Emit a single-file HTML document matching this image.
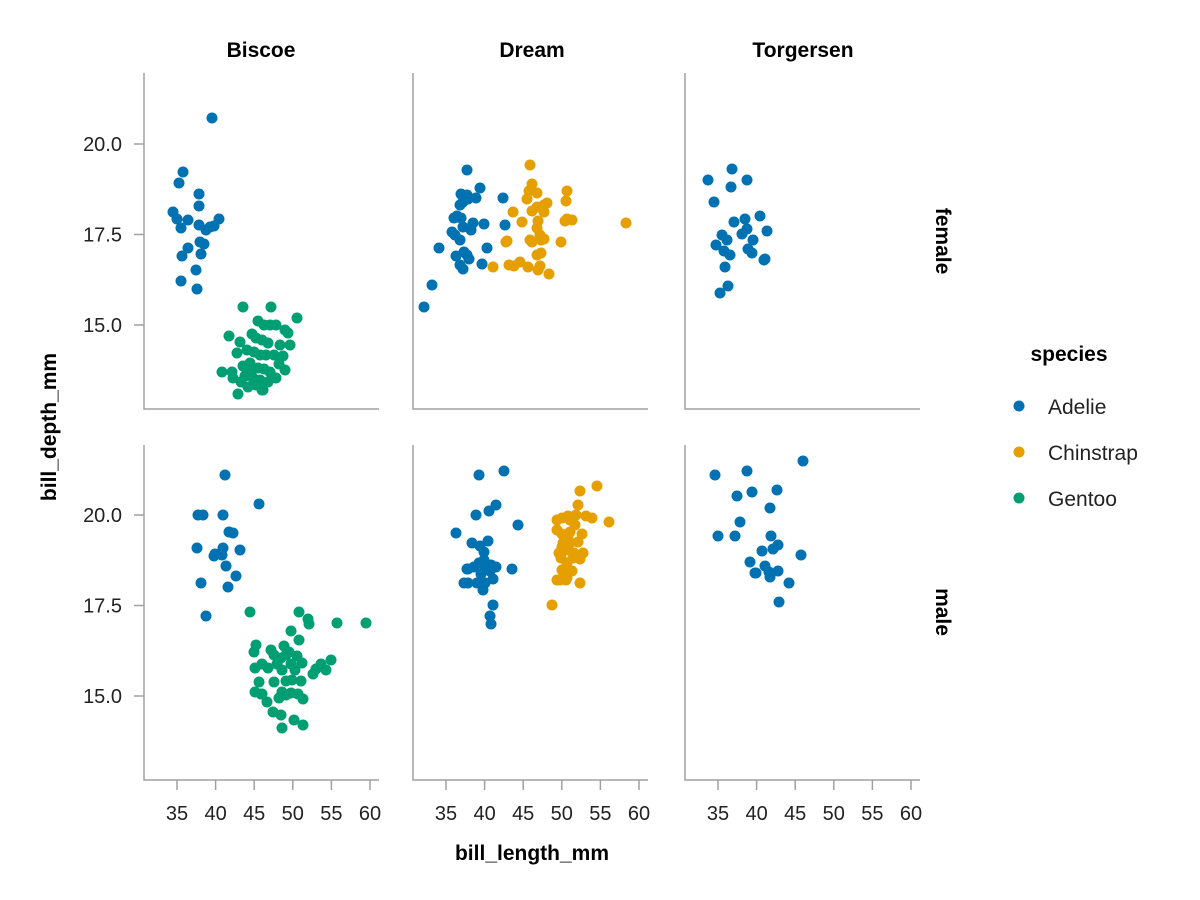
<!DOCTYPE html>
<html><head><meta charset="utf-8"><style>body{margin:0;background:#fff}svg{display:block}text{font-family:"Liberation Sans",sans-serif}</style></head><body>
<svg id="s" width="1200" height="900" xmlns="http://www.w3.org/2000/svg">
<g fill="#000">
<text x="261" y="57" font-size="21" font-weight="bold" text-anchor="middle">Biscoe</text>
<text x="532" y="57" font-size="21" font-weight="bold" text-anchor="middle">Dream</text>
<text x="803" y="57" font-size="21" font-weight="bold" text-anchor="middle">Torgersen</text>
<text transform="translate(936,241) rotate(90)" font-size="21" font-weight="bold" text-anchor="middle">female</text>
<text transform="translate(936,612) rotate(90)" font-size="21" font-weight="bold" text-anchor="middle">male</text>
<text transform="translate(56,427) rotate(-90)" font-size="21" font-weight="bold" text-anchor="middle">bill_depth_mm</text>
<text x="532" y="860" font-size="21" font-weight="bold" text-anchor="middle">bill_length_mm</text>
<text x="1069" y="361" font-size="21" font-weight="bold" text-anchor="middle">species</text>
<text x="1048" y="414" font-size="21" fill="#222">Adelie</text>
<text x="1048" y="460" font-size="21" fill="#222">Chinstrap</text>
<text x="1048" y="506" font-size="21" fill="#222">Gentoo</text>
</g>
<circle cx="1019" cy="406" r="5.5" fill="#0072B2"/><circle cx="1019" cy="452" r="5.5" fill="#E69F00"/><circle cx="1019" cy="498" r="5.5" fill="#009E73"/>
<g id="ax" stroke="#a0a0a0" stroke-width="1.5" fill="none"></g>
<g id="lab" font-size="20" fill="#222"></g>
<g id="pts"></g>
</svg>
<script>
var ax=document.getElementById('ax'),lab=document.getElementById('lab'),pts=document.getElementById('pts');
var NS="http://www.w3.org/2000/svg";
function el(p,t,a,txt){var e=document.createElementNS(NS,t);for(var k in a)e.setAttribute(k,a[k]);if(txt)e.textContent=txt;p.appendChild(e);}
var cols=[144,413,685],rows=[[73,409],[445,780]];
cols.forEach(function(x0,ci){rows.forEach(function(r,ri){
 el(ax,'path',{d:'M'+x0+' '+r[0]+'V'+r[1]+'H'+(x0+235)});
 if(ri==1){for(var i=0;i<6;i++){var x=x0+33+i*38.6;el(ax,'path',{d:'M'+x+' 780V790'});el(lab,'text',{x:x,y:820,'text-anchor':'middle'},String(35+5*i));}}
 if(ci==0){var ys=ri==0?[144,234.5,325]:[515,605.5,696];var L=['20.0','17.5','15.0'];ys.forEach(function(y,j){el(ax,'path',{d:'M134 '+y+'H144'});el(lab,'text',{x:122,y:y+7,'text-anchor':'end'},L[j]);});}
});});
var A='#0072B2',C='#E69F00',G='#009E73';
var data=[[A,[212,118,183,172,179,183,173,212,177,219,199,194,199,206,188,220,199,225,206,230,210,227,214,226,219,219,181,228,188,248,182,256,201,254,196,270,200,242,204,244,181,281,197,289]],
[G,[243,307,271,307,297,318,229,336,258,321,264,325,270,325,276,325,285,330,288,333,252,334,256,338,262,340,268,343,280,345,290,345,240,342,237,353,247,350,254,352,260,355,266,355,274,355,283,356,243,366,250,363,258,368,264,369,270,372,279,364,222,372,232,372,245,376,253,378,260,380,268,382,233,378,241,382,248,387,256,385,263,390,238,394,262,390,276,378,285,370,251,372]],
[A,[424,307,432,285,439,248,452,232,457,216,455,235,460,240,461,218,463,227,467,195,461,194,464,252,467,255,463,269,469,259,460,265,467,170,468,199,476,198,471,230,487,248,484,224,482,264,480,188,503,198,505,225,454,218,463,202,473,223,460,205,456,256]],
[C,[530,165,532,184,529,191,537,193,527,199,522,222,537,207,547,203,544,205,532,211,513,212,538,221,537,228,540,235,541,240,544,239,530,240,507,241,506,242,532,242,567,191,567,219,565,221,572,220,561,242,520,262,509,265,514,266,493,267,528,267,540,266,538,270,549,274,541,253,537,255,626,223,566,201,544,212]],
[A,[708,180,732,169,747,180,714,202,731,187,734,222,745,219,747,229,742,234,753,240,760,216,767,231,765,259,752,253,748,249,716,245,727,240,724,251,722,235,730,255,720,293,728,286,725,267,764,260]],
[A,[225,475,259,504,198,515,203,515,223,515,223,548,197,548,233,533,229,532,215,554,222,555,214,556,226,566,240,550,201,583,228,587,236,576,206,616]],
[G,[250,612,299,612,366,623,337,623,308,619,309,624,291,631,256,645,284,646,299,640,271,650,289,652,254,652,274,655,281,658,297,656,262,664,277,664,291,664,302,663,321,664,331,660,255,668,268,668,282,670,295,670,316,669,326,670,313,674,259,682,274,682,292,680,301,681,286,681,255,692,262,694,282,692,291,693,298,694,279,698,303,699,267,702,286,695,273,712,281,715,294,720,303,725,282,728,261,694,286,655]],
[A,[479,475,504,471,496,505,489,511,476,515,456,533,472,543,488,541,480,546,484,552,518,525,484,560,479,563,484,565,491,565,474,567,468,569,496,567,512,569,490,571,481,574,467,569,464,583,468,583,485,583,493,579,483,590,493,605,490,616,491,624,477,583]],
[C,[597,486,580,491,578,505,562,518,568,516,576,515,586,516,592,518,609,522,557,520,557,530,570,520,575,525,562,534,568,537,582,534,563,543,570,543,578,542,566,550,559,553,574,553,583,553,573,558,561,558,567,563,580,559,562,570,572,571,567,578,580,583,566,580,557,580,560,580,552,605,570,532,562,547]],
[A,[715,475,747,471,803,461,737,496,752,492,777,490,718,536,740,522,735,536,770,508,771,536,778,545,773,549,762,551,750,562,765,566,769,572,756,573,778,571,801,555,789,583,755,573,779,602,770,577]]];
data.forEach(function(d){for(var i=0;i<d[1].length;i+=2)el(pts,'circle',{cx:d[1][i],cy:d[1][i+1],r:5.5,fill:d[0]});});
</script>
</body></html>
